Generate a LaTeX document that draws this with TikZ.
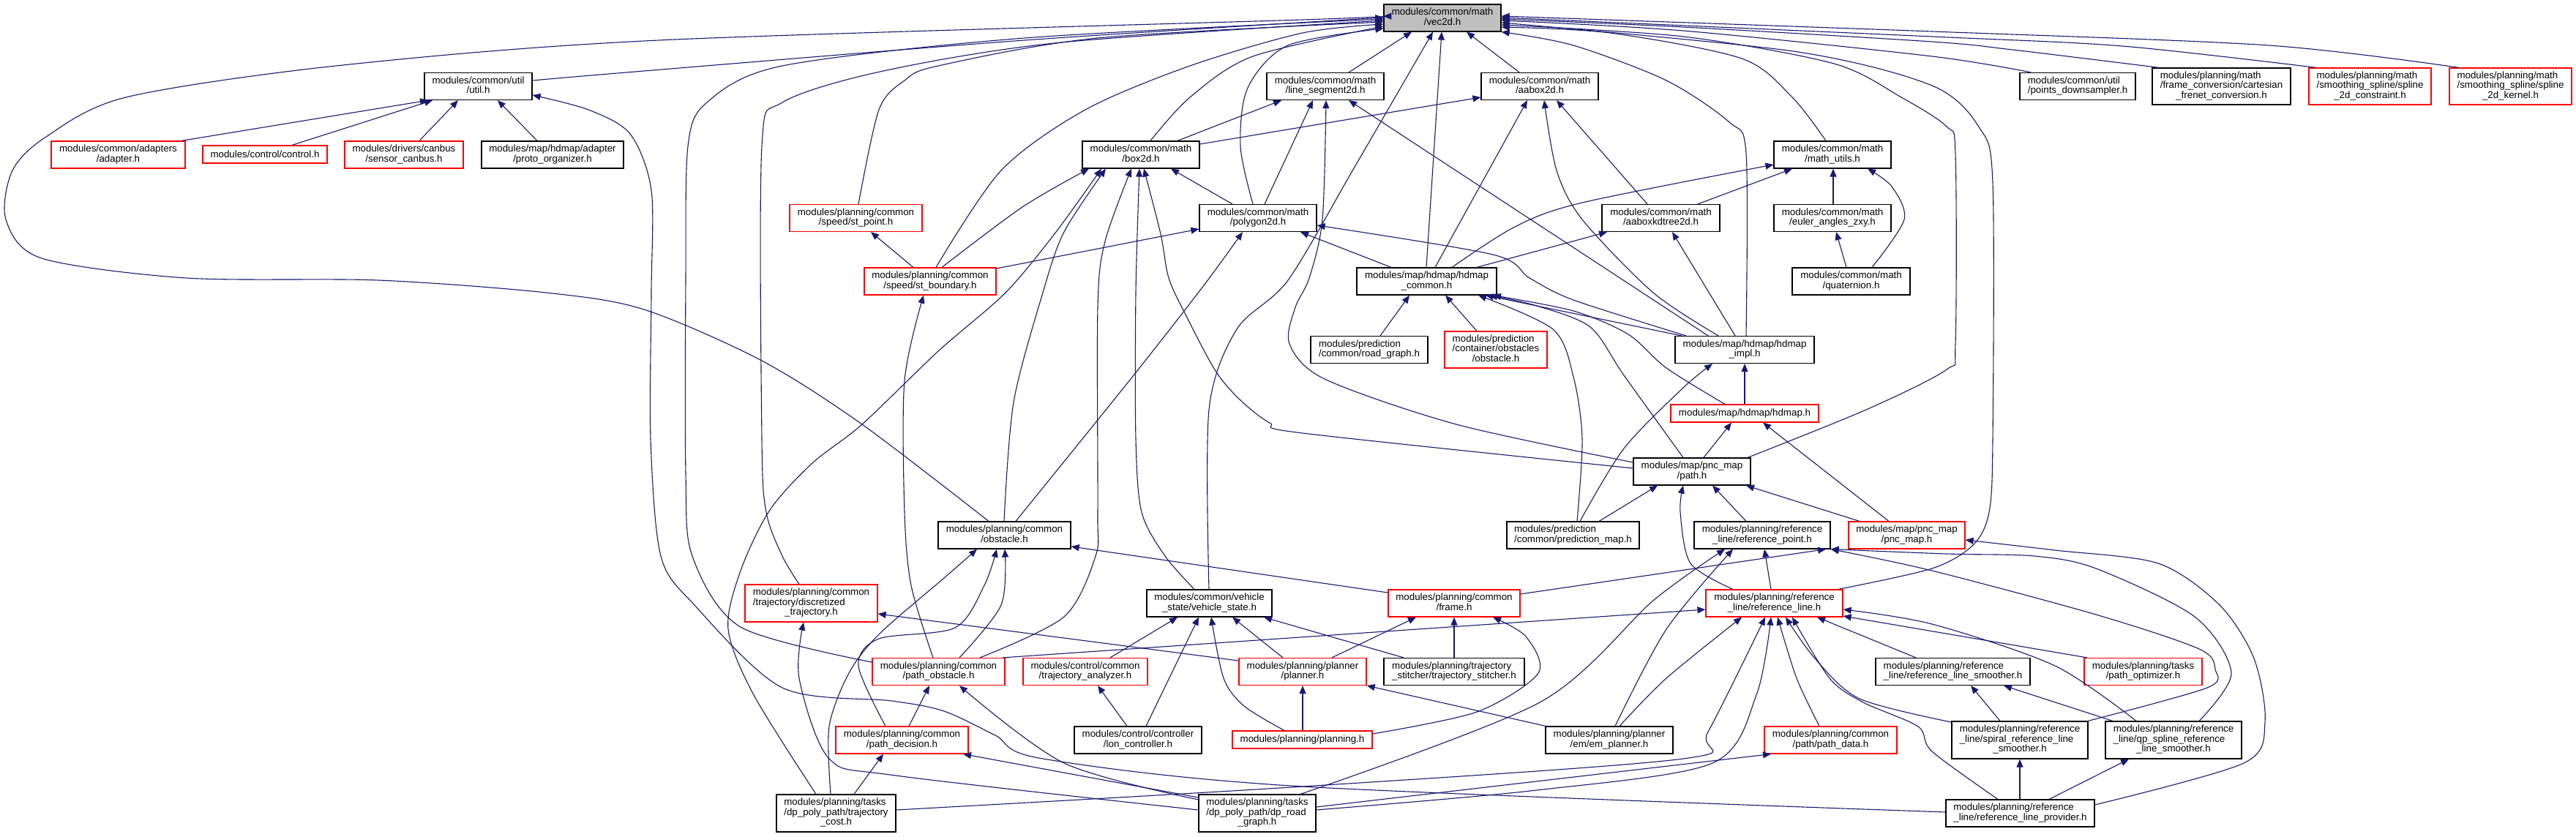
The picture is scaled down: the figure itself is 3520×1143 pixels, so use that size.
\documentclass[tikz,border=0pt]{standalone}
\usepackage{fontspec}
\newfontfamily\lblfont{Liberation Sans}
\usetikzlibrary{arrows.meta}
\definecolor{edgec}{HTML}{191970}
\definecolor{rootg}{HTML}{BFBFBF}
\newcommand\lbltwo[2]{\begin{tabular}{@{}l@{}}#1\\\multicolumn{1}{@{}c@{}}{#2}\end{tabular}}
\newcommand\lblthree[3]{\begin{tabular}{@{}l@{}}#1\\#2\\\multicolumn{1}{@{}c@{}}{#3}\end{tabular}}
\begin{document}
\begin{tikzpicture}[x=1pt,y=-1pt,
  blk/.style={rectangle, draw=black, line width=1.2pt, fill=white, inner sep=0pt, font=\lblfont\fontsize{13.33}{13}\selectfont},
  redb/.style={blk, draw=red},
  rootb/.style={blk, fill=rootg},
  e/.style={draw=edgec, line width=1.1pt, line join=round, -{Triangle[length=11pt,width=9pt]}}]
\fill[white] (0,0) rectangle (3520,1143);
\useasboundingbox (0,0) rectangle (3520,1143);

% ---------------- nodes ----------------
\node[rootb, minimum width=160pt, minimum height=37pt] (vec2d) at (1971,24.5) {\lbltwo{modules/common/math}{/vec2d.h}};
\node[blk, minimum width=147pt, minimum height=37pt] (util) at (653.5,118) {\lbltwo{modules/common/util}{/util.h}};
\node[blk, minimum width=160pt, minimum height=37pt] (lineseg) at (1811,118) {\lbltwo{modules/common/math}{/line\_segment2d.h}};
\node[blk, minimum width=160pt, minimum height=37pt] (aabox) at (2104,118) {\lbltwo{modules/common/math}{/aabox2d.h}};
\node[blk, minimum width=158pt, minimum height=37pt] (ptsdown) at (2839,118) {\lbltwo{modules/common/util}{/points\_downsampler.h}};
\node[blk, minimum width=189pt, minimum height=50pt] (frameconv) at (3035.5,118) {\lblthree{modules/planning/math}{/frame\_conversion/cartesian}{\_frenet\_conversion.h}};
\node[redb, minimum width=167pt, minimum height=50pt] (splcon) at (3238.5,118) {\lblthree{modules/planning/math}{/smoothing\_spline/spline}{\_2d\_constraint.h}};
\node[redb, minimum width=167pt, minimum height=50pt] (splker) at (3430.5,118) {\lblthree{modules/planning/math}{/smoothing\_spline/spline}{\_2d\_kernel.h}};

\node[redb, minimum width=183pt, minimum height=37pt] (adapter) at (161.5,211.5) {\lbltwo{modules/common/adapters}{/adapter.h}};
\node[redb, minimum width=170pt, minimum height=24pt] (control) at (362,211) {modules/control/control.h};
\node[redb, minimum width=162pt, minimum height=37pt] (canbus) at (552,211.5) {\lbltwo{modules/drivers/canbus}{/sensor\_canbus.h}};
\node[blk, minimum width=194pt, minimum height=37pt] (proto) at (755,211.5) {\lbltwo{modules/map/hdmap/adapter}{/proto\_organizer.h}};
\node[blk, minimum width=160pt, minimum height=37pt] (box2d) at (1559,211.5) {\lbltwo{modules/common/math}{/box2d.h}};
\node[blk, minimum width=160pt, minimum height=37pt] (mathutils) at (2504,211.5) {\lbltwo{modules/common/math}{/math\_utils.h}};

\node[redb, minimum width=181pt, minimum height=37pt] (stpoint) at (1169.5,298) {\lbltwo{modules/planning/common}{/speed/st\_point.h}};
\node[blk, minimum width=160pt, minimum height=37pt] (polygon) at (1719,298) {\lbltwo{modules/common/math}{/polygon2d.h}};
\node[blk, minimum width=161pt, minimum height=37pt] (kdtree) at (2269.5,298) {\lbltwo{modules/common/math}{/aaboxkdtree2d.h}};
\node[blk, minimum width=160pt, minimum height=37pt] (euler) at (2504,298) {\lbltwo{modules/common/math}{/euler\_angles\_zxy.h}};

\node[redb, minimum width=180pt, minimum height=37pt] (stbound) at (1271,384.5) {\lbltwo{modules/planning/common}{/speed/st\_boundary.h}};
\node[blk, minimum width=191pt, minimum height=37pt] (hdcommon) at (1949.5,384.5) {\lbltwo{modules/map/hdmap/hdmap}{\_common.h}};
\node[blk, minimum width=161pt, minimum height=37pt] (quat) at (2529.5,384.5) {\lbltwo{modules/common/math}{/quaternion.h}};

\node[blk, minimum width=160pt, minimum height=37pt] (roadgraph) at (1871,478) {\lbltwo{modules/prediction}{/common/road\_graph.h}};
\node[redb, minimum width=140pt, minimum height=50pt] (predobs) at (2044,478) {\lblthree{modules/prediction}{/container/obstacles}{/obstacle.h}};
\node[blk, minimum width=190pt, minimum height=37pt] (hdimpl) at (2384,478) {\lbltwo{modules/map/hdmap/hdmap}{\_impl.h}};
\node[redb, minimum width=202pt, minimum height=24pt] (hdmap) at (2384,565) {modules/map/hdmap/hdmap.h};
\node[blk, minimum width=160pt, minimum height=37pt] (path) at (2312,644.5) {\lbltwo{modules/map/pnc\_map}{/path.h}};

\node[blk, minimum width=181pt, minimum height=37pt] (obstacle) at (1372.5,731.5) {\lbltwo{modules/planning/common}{/obstacle.h}};
\node[blk, minimum width=181pt, minimum height=37pt] (predmap) at (2149.5,731.5) {\lbltwo{modules/prediction}{/common/prediction\_map.h}};
\node[blk, minimum width=186pt, minimum height=37pt] (refpoint) at (2408,731.5) {\lbltwo{modules/planning/reference}{\_line/reference\_point.h}};
\node[redb, minimum width=159pt, minimum height=37pt] (pncmap) at (2605.5,731.5) {\lbltwo{modules/map/pnc\_map}{/pnc\_map.h}};

\node[redb, minimum width=181pt, minimum height=51pt] (discr) at (1108.5,824.5) {\lblthree{modules/planning/common}{/trajectory/discretized}{\_trajectory.h}};
\node[blk, minimum width=171pt, minimum height=37pt] (vstate) at (1652.5,824.5) {\lbltwo{modules/common/vehicle}{\_state/vehicle\_state.h}};
\node[redb, minimum width=180pt, minimum height=37pt] (frame) at (1987,824.5) {\lbltwo{modules/planning/common}{/frame.h}};
\node[redb, minimum width=187pt, minimum height=37pt] (refline) at (2424.5,824.5) {\lbltwo{modules/planning/reference}{\_line/reference\_line.h}};

\node[redb, minimum width=181pt, minimum height=37pt] (pathobs) at (1282.5,918) {\lbltwo{modules/planning/common}{/path\_obstacle.h}};
\node[redb, minimum width=170pt, minimum height=37pt] (traja) at (1483,918) {\lbltwo{modules/control/common}{/trajectory\_analyzer.h}};
\node[redb, minimum width=174pt, minimum height=37pt] (planner) at (1780,918) {\lbltwo{modules/planning/planner}{/planner.h}};
\node[blk, minimum width=192pt, minimum height=37pt] (stitcher) at (1987,918) {\lbltwo{modules/planning/trajectory}{\_stitcher/trajectory\_stitcher.h}};
\node[blk, minimum width=211pt, minimum height=37pt] (smoother) at (2668.5,918) {\lbltwo{modules/planning/reference}{\_line/reference\_line\_smoother.h}};
\node[redb, minimum width=161pt, minimum height=37pt] (pathopt) at (2928.5,918) {\lbltwo{modules/planning/tasks}{/path\_optimizer.h}};

\node[redb, minimum width=181pt, minimum height=37pt] (pathdec) at (1232.5,1011.5) {\lbltwo{modules/planning/common}{/path\_decision.h}};
\node[blk, minimum width=174pt, minimum height=37pt] (lonctrl) at (1555,1011.5) {\lbltwo{modules/control/controller}{/lon\_controller.h}};
\node[redb, minimum width=191pt, minimum height=24pt] (planning) at (1779.5,1011) {modules/planning/planning.h};
\node[blk, minimum width=174pt, minimum height=37pt] (emplanner) at (2199,1011.5) {\lbltwo{modules/planning/planner}{/em/em\_planner.h}};
\node[redb, minimum width=181pt, minimum height=37pt] (pathdata) at (2501.5,1011.5) {\lbltwo{modules/planning/common}{/path/path\_data.h}};
\node[blk, minimum width=186pt, minimum height=51pt] (spiral) at (2760,1011.5) {\lblthree{modules/planning/reference}{\_line/spiral\_reference\_line}{\_smoother.h}};
\node[blk, minimum width=186pt, minimum height=51pt] (qpspline) at (2970,1011.5) {\lblthree{modules/planning/reference}{\_line/qp\_spline\_reference}{\_line\_smoother.h}};

\node[blk, minimum width=163pt, minimum height=51pt] (trajcost) at (1142.5,1111.5) {\lblthree{modules/planning/tasks}{/dp\_poly\_path/trajectory}{\_cost.h}};
\node[blk, minimum width=160pt, minimum height=51pt] (dproad) at (1718,1111.5) {\lblthree{modules/planning/tasks}{/dp\_poly\_path/dp\_road}{\_graph.h}};
\node[blk, minimum width=203pt, minimum height=37pt] (provider) at (2760.5,1111.5) {\lbltwo{modules/planning/reference}{\_line/reference\_line\_provider.h}};

% ---------------- edges into vec2d ----------------
\draw[e] plot[smooth] coordinates {(1351,0 |- obstacle.north) (1178,580) (1041,493) (880,423) (746,400) (517,383) (255,380) (57,353) (8,300) (17,233) (63,187) (172,133) (459,90) (900,55) (1780,27) (vec2d.west |- 0,22)};
\draw[e] plot[smooth] coordinates {(util.east |- 0,110) (880,97) (1400,55) (vec2d.west |- 0,24)};
\draw[e] plot[smooth] coordinates {(pathobs.west |- 0,905) (1012,857) (946,760) (937,647) (937,380) (940,200) (966,140) (1069,90) (1400,52) (vec2d.west |- 0,26)};
\draw[e] plot[smooth] coordinates {(1092,0 |- discr.north) (1069,760) (1047,700) (1041,600) (1041,200) (1069,140) (1207,97) (1450,58) (vec2d.west |- 0,28)};
\draw[e] plot[smooth] coordinates {(1173,0 |- stpoint.north) (1201,150) (1236,110) (1282,90) (1500,52) (vec2d.west |- 0,30)};
\draw[e] plot[smooth] coordinates {(1279,0 |- stbound.north) (1368,233) (1483,150) (1626,90) (1780,45) (vec2d.west |- 0,33)};
\draw[e] plot[smooth] coordinates {(1572,0 |- box2d.north) (1626,133) (1712,77) (vec2d.west |- 0,36)};
\draw[e] plot[smooth] coordinates {(1712,0 |- polygon.north) (1695,200) (1705,120) (1760,62) (vec2d.west |- 0,39)};
\draw[e] (1843,0 |- lineseg.north) -- (1929,0 |- vec2d.south);
\draw[e] plot[smooth] coordinates {(1652,0 |- vstate.north) (1652,560) (1690,450) (1760,383) (1850,230) (1958,0 |- vec2d.south)};
\draw[e] (1949,0 |- hdcommon.north) -- (1970,0 |- vec2d.south);
\draw[e] (2076,0 |- aabox.north) -- (2004,0 |- vec2d.south);
\draw[e] plot[smooth] coordinates {(2386,0 |- hdimpl.north) (2386,210) (2363,167) (2277,110) (2150,62) (vec2d.south east)};
\draw[e] plot[smooth] coordinates {(2495,0 |- mathutils.north) (2449,133) (2380,80) (2200,45) (vec2d.east |- 0,37)};
\draw[e] plot[smooth] coordinates {(2775,0 |- ptsdown.north) (2640,77) (2300,42) (vec2d.east |- 0,28)};
\draw[e] plot[smooth] coordinates {(2950,0 |- frameconv.north) (2750,68) (2640,57) (2300,37) (vec2d.east |- 0,26)};
\draw[e] plot[smooth] coordinates {(3165,0 |- splcon.north) (2900,63) (2640,50) (vec2d.east |- 0,24)};
\draw[e] plot[smooth] coordinates {(3360,0 |- splker.north) (3100,62) (2640,43) (vec2d.east |- 0,22)};
\draw[e] plot[smooth] coordinates {(2388,0 |- path.north) (2550,560) (2660,505) (2672,470) (2672,210) (2660,173) (2598,133) (2506,87) (2300,50) (vec2d.east |- 0,34)};
\draw[e] plot[smooth] coordinates {(2512,0 |- refline.north) (2640,777) (2696,745) (2718,700) (2723,600) (2723,250) (2705,175) (2640,117) (2450,70) (vec2d.east |- 0,31)};

% ---------------- util ----------------
\draw[e] (248,0 |- adapter.north) -- (585,0 |- util.south);
\draw[e] (399,0 |- control.north) -- (591,0 |- util.south);
\draw[e] (573,0 |- canbus.north) -- (626,0 |- util.south);
\draw[e] (734,0 |- proto.north) -- (680,0 |- util.south);
\draw[e] plot[smooth] coordinates {(provider.west |- 0,1110) (1780,1075) (1425,1037) (1360,1005) (1290,972) (1219,958) (1069,940) (949,827) (903,760) (889,600) (890,400) (890,260) (861,183) (804,150) (util.east |- 0,130)};

% ---------------- math level ----------------
\draw[e] (1609,0 |- box2d.north) -- (1751,0 |- lineseg.south);
\draw[e] (box2d.east |- 0,197) -- (aabox.west |- 0,133);
\draw[e] (1728,0 |- polygon.north) -- (1794,0 |- lineseg.south);
\draw[e] (1684,0 |- polygon.north) -- (1600,0 |- box2d.south);
\draw[e] plot[smooth] coordinates {(1287,0 |- stbound.north) (1397,283) (1488,0 |- box2d.south)};
\draw[e] (1248,0 |- stbound.north) -- (1190,0 |- stpoint.south);
\draw[e] (stbound.east |- 0,367) -- (polygon.west |- 0,313);
\draw[e] (1961,0 |- hdcommon.north) -- (2087,0 |- aabox.south);
\draw[e] plot[smooth] coordinates {(1984,0 |- hdcommon.north) (2070,310) (2162,277) (mathutils.west |- 0,225)};
\draw[e] (2018,0 |- hdcommon.north) -- (2196,0 |- kdtree.south);
\draw[e] (1901,0 |- hdcommon.north) -- (1777,0 |- polygon.south);
\draw[e] (2251,0 |- kdtree.north) -- (2127,0 |- aabox.south);
\draw[e] (2320,0 |- kdtree.north) -- (2449,0 |- mathutils.south);
\draw[e] (2505,0 |- euler.north) -- (2505,0 |- mathutils.south);
\draw[e] (2523,0 |- quat.north) -- (2509,0 |- euler.south);
\draw[e] plot[smooth] coordinates {(2558,0 |- quat.north) (2602,300) (2585,255) (2552,0 |- mathutils.south)};

% ---------------- hdmap level ----------------
\draw[e] (2298,0 |- hdimpl.north) -- (2030,0 |- hdcommon.south);
\draw[e] plot[smooth] coordinates {(2304,0 |- hdimpl.north) (2150,410) (2090,380) (2040,348) (polygon.east |- 0,308)};
\draw[e] (2334,0 |- hdimpl.north) -- (1843,0 |- lineseg.south);
\draw[e] plot[smooth] coordinates {(2348,0 |- hdimpl.north) (2259,400) (2162,300) (2127,233) (2110,0 |- aabox.south)};
\draw[e] (2371,0 |- hdimpl.north) -- (2285,0 |- kdtree.south);
\draw[e] (1886,0 |- roadgraph.north) -- (1926,0 |- hdcommon.south);
\draw[e] (2018,0 |- predobs.north) -- (1975,0 |- hdcommon.south);
\draw[e] (2384,0 |- hdmap.north) -- (2384,0 |- hdimpl.south);
\draw[e] plot[smooth] coordinates {(2357,0 |- hdmap.north) (2277,503) (2225,457) (2150,425) (2040,0 |- hdcommon.south)};
\draw[e] plot[smooth] coordinates {(2300,0 |- path.north) (2219,513) (2173,447) (2100,418) (2035,0 |- hdcommon.south)};
\draw[e] (2328,0 |- path.north) -- (2366,0 |- hdmap.south);
\draw[e] plot[smooth] coordinates {(path.west |- 0,640) (1780,592) (1735,578) (1695,547) (1661,507) (1620,430) (1597,380) (1586,320) (1563,0 |- box2d.south)};
\draw[e] plot[smooth] coordinates {(path.west |- 0,632) (1990,580) (1810,518) (1762,470) (1770,420) (1789,380) (1807,300) (1812,0 |- lineseg.south)};
\draw[e] (2386,0 |- refpoint.north) -- (2340,0 |- path.south);
\draw[e] (2185,0 |- predmap.north) -- (2265,0 |- path.south);
\draw[e] plot[smooth] coordinates {(2159,0 |- predmap.north) (2219,613) (2300,530) (2340,0 |- hdimpl.south)};
\draw[e] plot[smooth] coordinates {(2155,0 |- predmap.north) (2162,600) (2150,515) (2122,450) (2020,0 |- hdcommon.south)};
\draw[e] (2541,0 |- pncmap.north) -- (2386,0 |- path.south);
\draw[e] (2581,0 |- pncmap.north) -- (2409,0 |- hdmap.south);
\draw[e] plot[smooth] coordinates {(2368,0 |- refline.north) (2310,770) (2296,700) (2300,0 |- path.south)};
\draw[e] (2420,0 |- refline.north) -- (2411,0 |- refpoint.south);

% ---------------- planning level ----------------
\draw[e] plot[smooth] coordinates {(1372,0 |- obstacle.north) (1385,550) (1425,400) (1454,317) (1511,0 |- box2d.south)};
\draw[e] plot[smooth] coordinates {(1388,0 |- obstacle.north) (1549,513) (1645,390) (1698,0 |- polygon.south)};
\draw[e] plot[smooth] coordinates {(1115,0 |- trajcost.north) (1030,950) (995,860) (1012,780) (1052,697) (1110,633) (1178,580) (1282,480) (1374,400) (1443,317) (1505,0 |- box2d.south)};
\draw[e] plot[smooth] coordinates {(1135,0 |- trajcost.north) (1133,993) (1160,920) (1201,867) (1290,790) (1335,0 |- obstacle.south)};
\draw[e] plot[smooth] coordinates {(1210,0 |- pathdec.north) (1173,910) (1201,873) (1305,858) (1345,800) (1362,0 |- obstacle.south)};
\draw[e] plot[smooth] coordinates {(1311,0 |- pathobs.north) (1368,827) (1373,0 |- obstacle.south)};
\draw[e] plot[smooth] coordinates {(1339,0 |- pathobs.north) (1454,843) (1497,760) (1500,700) (1500,420) (1510,330) (1546,0 |- box2d.south)};
\draw[e] plot[smooth] coordinates {(1632,0 |- vstate.north) (1592,760) (1560,700) (1552,600) (1552,400) (1557,0 |- box2d.south)};
\draw[e] plot[smooth] coordinates {(1275,0 |- pathobs.north) (1245,800) (1236,700) (1236,520) (1262,0 |- stbound.south)};
\draw[e] (1370,0 |- pathobs.north) -- (refline.west |- 0,833);
\draw[e] (planner.west |- 0,903) -- (discr.east |- 0,839);
\draw[e] plot[smooth] coordinates {(dproad.west |- 0,1107) (1224,1060) (1133,1037) (1092,927) (1098,0 |- discr.south)};
\draw[e] (1242,0 |- pathdec.north) -- (1270,0 |- pathobs.south);
\draw[e] plot[smooth] coordinates {(dproad.west |- 0,1093) (1454,1043) (1311,0 |- pathobs.south)};
\draw[e] (dproad.west |- 0,1090) -- (1316,0 |- pathdec.south);
\draw[e] (1167,0 |- trajcost.north) -- (1207,0 |- pathdec.south);
\draw[e] plot[smooth] coordinates {(trajcost.east |- 0,1107) (1780,1075) (2300,1037) (2334,1000) (2412,0 |- refline.south)};
\draw[e] plot[smooth] coordinates {(dproad.east |- 0,1107) (2100,1080) (2340,1043) (2400,950) (2420,0 |- refline.south)};
\draw[e] (dproad.east |- 0,1103) -- (2420,0 |- pathdata.south);
\draw[e] plot[smooth] coordinates {(1777,0 |- dproad.north) (2104,960) (2260,820) (2357,0 |- refpoint.south)};
\draw[e] plot[smooth] coordinates {(2207,0 |- emplanner.north) (2277,860) (2368,0 |- refpoint.south)};
\draw[e] plot[smooth] coordinates {(2213,0 |- emplanner.north) (2277,927) (2380,0 |- refline.south)};
\draw[e] (2112,0 |- emplanner.north) -- (planner.south east);
\draw[e] plot[smooth] coordinates {(2486,0 |- pathdata.north) (2455,927) (2429,0 |- refline.south)};
\draw[e] (2618,0 |- smoother.north) -- (2483,0 |- refline.south);
\draw[e] (2852,0 |- pathopt.north) -- (refline.east |- 0,842);
\draw[e] plot[smooth] coordinates {(spiral.west |- 0,987) (2541,955) (2480,900) (2440,0 |- refline.south)};
\draw[e] plot[smooth] coordinates {(2919,0 |- qpspline.north) (2808,910) (2640,853) (refline.east |- 0,833)};
\draw[e] plot[smooth] coordinates {(2730,0 |- provider.north) (2640,1027) (2621,993) (2546,960) (2500,927) (2449,0 |- refline.south)};
\draw[e] (2733,0 |- spiral.north) -- (2693,0 |- smoother.south);
\draw[e] (2887,0 |- qpspline.north) -- (2738,0 |- smoother.south);
\draw[e] plot[smooth] coordinates {(2853,0 |- spiral.north) (3016,940) (3027,915) (3005,887) (2864,840) (2640,780) (refpoint.south east)};
\draw[e] plot[smooth] coordinates {(3005,0 |- qpspline.north) (3049,920) (2999,843) (2864,777) (2780,760) (2660,757) (refpoint.south east)};
\draw[e] (2760,0 |- provider.north) -- (2760,0 |- spiral.south);
\draw[e] (2800,0 |- provider.north) -- (2909,0 |- qpspline.south);
\draw[e] plot[smooth] coordinates {(provider.east |- 0,1100) (3066,1043) (3095,987) (3080,900) (3033,827) (2949,770) (2808,752) (pncmap.east |- 0,738)};
\draw[e] (frame.west |- 0,810) -- (obstacle.east |- 0,747);
\draw[e] (frame.east |- 0,812) -- (2495,0 |- refpoint.south);
\draw[e] (1820,0 |- planner.north) -- (1935,0 |- frame.south);
\draw[e] (1987,0 |- stitcher.north) -- (1987,0 |- frame.south);
\draw[e] plot[smooth] coordinates {(planning.east |- 0,1003) (2018,973) (2102,920) (2085,870) (2040,0 |- frame.south)};
\draw[e] (1753,0 |- planner.north) -- (1684,0 |- vstate.south);
\draw[e] (1918,0 |- stitcher.north) -- (1727,0 |- vstate.south);
\draw[e] (1517,0 |- traja.north) -- (1609,0 |- vstate.south);
\draw[e] (1540,0 |- lonctrl.north) -- (1500,0 |- traja.south);
\draw[e] (1566,0 |- lonctrl.north) -- (1638,0 |- vstate.south);
\draw[e] (1780,0 |- planning.north) -- (1780,0 |- planner.south);
\draw[e] plot[smooth] coordinates {(1755,0 |- planning.north) (1700,965) (1672,927) (1655,0 |- vstate.south)};
\end{tikzpicture}
\end{document}
